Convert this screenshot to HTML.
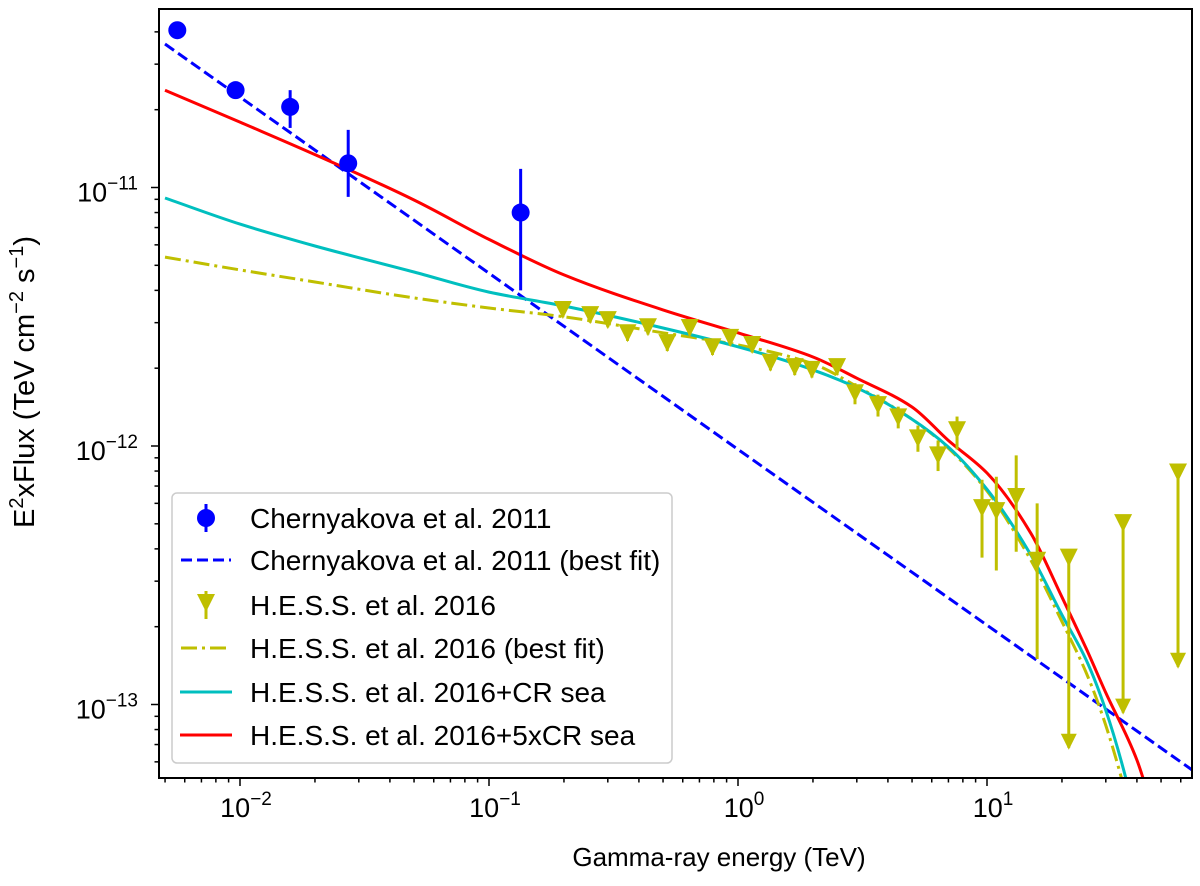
<!DOCTYPE html>
<html><head><meta charset="utf-8"><style>
html,body{margin:0;background:#fff;overflow:hidden;width:1200px;height:886px}
svg{display:block;font-family:"Liberation Sans","DejaVu Sans",sans-serif}
</style></head><body>
<svg id="chart" width="1200" height="886" viewBox="0 0 1200 886" xmlns="http://www.w3.org/2000/svg">
<defs><clipPath id="clip"><rect x="159" y="9" width="1033" height="769"/></clipPath></defs>
<g id="plot" clip-path="url(#clip)"></g>
<g id="axes"></g>
<g id="legend"></g>
</svg>
<script>
// Chernyakova et al. 2011 data (TeV, TeV cm^-2 s^-1 in units of 1e-12)
const chE = [0.0056, 0.0096, 0.0159, 0.0272, 0.134];
const chF = [40.6, 23.8, 20.5, 12.4, 8.0];
const chLo = [38.5, 22.4, 17.0, 9.2, 4.0];
const chHi = [42.5, 25.5, 23.8, 16.7, 11.8];
// H.E.S.S. 2016 data
const hsE = [0.198,0.255,0.30,0.36,0.435,0.52,0.64,0.79,0.93,1.14,1.35,1.69,1.98,2.5,2.95,3.65,4.4,5.28,6.36,7.58,9.55,10.9,13.1,15.9,21.3,35.2,58.5];
const hsF = [3.36,3.21,3.07,2.73,2.88,2.50,2.86,2.41,2.62,2.46,2.10,2.02,1.97,2.02,1.60,1.44,1.29,1.07,0.92,1.15,0.575,0.56,0.635,0.36,0.37,0.503,0.79];
const hsLo = [3.15,3.0,2.88,2.55,2.7,2.33,2.68,2.25,2.45,2.3,1.96,1.88,1.84,1.88,1.45,1.30,1.17,0.95,0.80,0.97,0.37,0.33,0.39,0.15,0.068,0.093,0.14];
const hsHi = [3.55,3.4,3.25,2.9,3.05,2.68,3.05,2.58,2.8,2.63,2.25,2.16,2.1,2.16,1.75,1.58,1.42,1.2,1.05,1.3,0.74,0.76,0.92,0.60,0.37,0.503,0.79];
const hsLimit = [0,0,0,0,0,0,0,0,0,0,0,0,0,0,0,0,0,0,0,0,0,0,0,0,1,1,1];
// model curves
const blueE = [0.005, 1, 70];
const blueF = [35.9, 0.97, 0.054];
const curveE = [0.005,0.01,0.02,0.05,0.1,0.2,0.5,1,2,3,5,7,10,15,20,25,30,40,50];
const yellowF = [5.38,4.80,4.31,3.74,3.42,3.16,2.74,2.46,2.08,1.70,1.27,0.98,0.67,0.362,0.209,0.133,0.083,0.03,0.01];
const cyanF = [9.11,7.22,5.94,4.71,3.94,3.48,2.86,2.42,1.97,1.68,1.27,0.99,0.68,0.379,0.222,0.149,0.095,0.035,0.012];
const redF = [23.8,17.9,13.4,8.95,6.3,4.59,3.36,2.74,2.21,1.83,1.415,1.05,0.786,0.46,0.26,0.165,0.111,0.061,0.03];

const NS='http://www.w3.org/2000/svg';
const X0=159,X1=1192,Y0=9,Y1=778;
function sx(e){return 738+249*Math.log10(e);}
function sy(f){return 446-258.5*Math.log10(f);}
function mk(tag,attrs,parent){const el=document.createElementNS(NS,tag);for(const k in attrs)el.setAttribute(k,attrs[k]);parent.appendChild(el);return el;}
const plot=document.getElementById('plot'),axes=document.getElementById('axes'),leg=document.getElementById('legend');

// monotone cubic (Fritsch-Carlson) path
function smoothPath(pts){
  const n=pts.length,xs=pts.map(p=>p[0]),ys=pts.map(p=>p[1]);
  const dx=[],m=[];
  for(let i=0;i<n-1;i++){dx.push(xs[i+1]-xs[i]);m.push((ys[i+1]-ys[i])/dx[i]);}
  const t=[m[0]];
  for(let i=1;i<n-1;i++){
    if(m[i-1]*m[i]<=0)t.push(0);
    else{const w1=2*dx[i]+dx[i-1],w2=dx[i]+2*dx[i-1];t.push((w1+w2)/(w1/m[i-1]+w2/m[i]));}
  }
  t.push(m[n-2]);
  let d='M'+xs[0].toFixed(1)+','+ys[0].toFixed(1);
  for(let i=0;i<n-1;i++){
    const h=dx[i]/3;
    d+=` C${(xs[i]+h).toFixed(1)},${(ys[i]+t[i]*h).toFixed(1)} ${(xs[i+1]-h).toFixed(1)},${(ys[i+1]-t[i+1]*h).toFixed(1)} ${xs[i+1].toFixed(1)},${ys[i+1].toFixed(1)}`;
  }
  return d;
}
function line(E,F,stroke,dash,name,smooth){
  const pts=E.map((e,i)=>[sx(e),sy(F[i])]);
  const d=smooth?smoothPath(pts):pts.map((p,i)=>(i?'L':'M')+p[0].toFixed(1)+','+p[1].toFixed(1)).join(' ');
  const p=mk('path',{d:d,fill:'none',stroke:stroke,'stroke-width':3,'stroke-dasharray':dash||'none'},plot);
  
  
}
line(blueE,blueF,'#0000ff','11,5','chernyakova-fit-line',false);
line(curveE,yellowF,'#bfbf00','16,5,3,5','hess-fit-line',true);
line(curveE,cyanF,'#00bfbf','','cr-sea-line',true);
line(curveE,redF,'#ff0000','','cr-sea-5x-line',true);

function tri(x,y,s,parent){return mk('path',{d:`M${x-s},${y-s} L${x+s},${y-s} L${x},${y+s} Z`,fill:'#bfbf00'},parent);}
hsE.forEach((e,i)=>{
  const x=sx(e),y=sy(hsF[i]);
  const g=mk('g',{},plot);
  
  
  mk('line',{x1:x,x2:x,y1:sy(hsHi[i]),y2:sy(hsLo[i]),stroke:'#bfbf00','stroke-width':3},g);
  tri(x,y,9,g);
  if(hsLimit[i]){tri(x,sy(hsLo[i])-6,8,g);}
});
chE.forEach((e,i)=>{
  const x=sx(e);
  const g=mk('g',{},plot);
  
  
  mk('line',{x1:x,x2:x,y1:sy(chHi[i]),y2:sy(chLo[i]),stroke:'#0000ff','stroke-width':3},g);
  mk('circle',{cx:x,cy:sy(chF[i]),r:9,fill:'#0000ff'},g);
});

// frame
const fr=mk('rect',{x:X0,y:Y0,width:X1-X0,height:Y1-Y0,fill:'none',stroke:'#000','stroke-width':2},axes);


// x ticks
const xMajors=[-2,-1,0,1];
for(let d=-3;d<=1;d++)for(let m=1;m<10;m++){const e=m*Math.pow(10,d);const x=sx(e);if(x<X0||x>X1)continue;
  mk('line',{x1:x,x2:x,y1:Y1,y2:Y1+(m==1?8:4.5),stroke:'#000','stroke-width':1.5},axes);}
xMajors.forEach(p=>{const t=mk('text',{x:sx(Math.pow(10,p))+6,y:817,'font-size':27,'text-anchor':'middle'},axes);
  
  
  t.innerHTML='10<tspan dy="-12" font-size="19">'+(p<0?'\u2212'+(-p):p)+'</tspan>';});
// y ticks
const yMajors=[-11,-12,-13];
for(let d=-2;d<=1;d++)for(let m=1;m<10;m++){const f=m*Math.pow(10,d);const y=sy(f);if(y<Y0||y>Y1)continue;
  mk('line',{x1:X0,x2:X0-(m==1?8:4.5),y1:y,y2:y,stroke:'#000','stroke-width':1.5},axes);}
yMajors.forEach(p=>{const t=mk('text',{x:138,y:sy(Math.pow(10,p+12))+14,'font-size':27,'text-anchor':'end'},axes);
  
  
  t.innerHTML='10<tspan dy="-12" font-size="19">\u2212'+(-p)+'</tspan>';});
const xt=mk('text',{x:719,y:866,'font-size':26,'text-anchor':'middle'},axes);xt.textContent='Gamma-ray energy (TeV)';


const yt=mk('text',{x:0,y:0,'font-size':29,'text-anchor':'middle',transform:'translate(34,382) rotate(-90)'},axes);
yt.innerHTML='E<tspan dy="-11" font-size="20">2</tspan><tspan dy="11">xFlux (TeV cm</tspan><tspan dy="-11" font-size="20">\u22122</tspan><tspan dy="11"> s</tspan><tspan dy="-11" font-size="20">\u22121</tspan><tspan dy="11">)</tspan>';



// legend
const lb=mk('rect',{x:172,y:493,width:500,height:270,rx:5,fill:'#fff','fill-opacity':0.85,stroke:'#ccc','stroke-width':1.5},leg);


const labels=['Chernyakova et al. 2011','Chernyakova et al. 2011 (best fit)','H.E.S.S. et al. 2016','H.E.S.S. et al. 2016 (best fit)','H.E.S.S. et al. 2016+CR sea','H.E.S.S. et al. 2016+5xCR sea'];
const ly=[518,560,605,648,692,735];
labels.forEach((s,i)=>{
  const g=mk('g',{},leg);
  
  
  const y=ly[i];
  if(i==0){mk('line',{x1:206,x2:206,y1:y-14,y2:y+14,stroke:'#0000ff','stroke-width':3},g);mk('circle',{cx:206,cy:y,r:9,fill:'#0000ff'},g);}
  if(i==1)mk('line',{x1:181,x2:231,y1:y,y2:y,stroke:'#0000ff','stroke-width':3,'stroke-dasharray':'11,5'},g);
  if(i==2){mk('line',{x1:206,x2:206,y1:y-14,y2:y+14,stroke:'#bfbf00','stroke-width':3},g);tri(206,y-2,9,g);}
  if(i==3)mk('line',{x1:181,x2:231,y1:y,y2:y,stroke:'#bfbf00','stroke-width':3,'stroke-dasharray':'16,5,3,5'},g);
  if(i==4)mk('line',{x1:180,x2:232,y1:y,y2:y,stroke:'#00bfbf','stroke-width':3},g);
  if(i==5)mk('line',{x1:180,x2:232,y1:y,y2:y,stroke:'#ff0000','stroke-width':3},g);
  const t=mk('text',{x:250,y:y+10,'font-size':28},g);t.textContent=s;
});
</script>
</body></html>
